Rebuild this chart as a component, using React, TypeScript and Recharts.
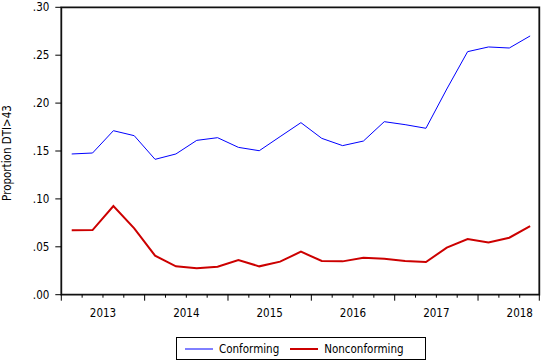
import React from 'react';
import { LineChart, Line, XAxis, YAxis, Legend, ReferenceArea } from 'recharts';

const quarters = [
  '2013Q1','2013Q2','2013Q3','2013Q4',
  '2014Q1','2014Q2','2014Q3','2014Q4',
  '2015Q1','2015Q2','2015Q3','2015Q4',
  '2016Q1','2016Q2','2016Q3','2016Q4',
  '2017Q1','2017Q2','2017Q3','2017Q4',
  '2018Q1','2018Q2','2018Q3',
];
const conforming = [
  0.1469, 0.1479, 0.1712, 0.1660, 0.1413, 0.1469, 0.1611, 0.1639,
  0.1538, 0.1503, 0.1650, 0.1796, 0.1632, 0.1556, 0.1604, 0.1806,
  0.1775, 0.1737, 0.2147, 0.2537, 0.2586, 0.2575, 0.2701,
];
const nonconforming = [
  0.0672, 0.0675, 0.0926, 0.0693, 0.0407, 0.0296, 0.0275, 0.0292,
  0.0362, 0.0296, 0.0345, 0.0449, 0.0352, 0.0348, 0.0386, 0.0376,
  0.0352, 0.0341, 0.0491, 0.0581, 0.0546, 0.0595, 0.0717,
];
const yearLabels = ['2013', '2014', '2015', '2016', '2017', '2018'];
const yTicks = [0, 0.05, 0.1, 0.15, 0.2, 0.25, 0.3];

const FONT = '"DejaVu Sans Condensed", "DejaVu Sans", Verdana, sans-serif';
const FS = 11.5;
const X_END = 22.94;

const data = quarters.map((q, i) => ({
  q,
  pos: i + 0.5,
  Conforming: conforming[i],
  Nonconforming: nonconforming[i],
}));

const xTickValues = [...quarters.map((_, i) => i), X_END];

const XTick = (props: any) => {
  const { x, y, payload } = props;
  const v = payload.value as number;
  const isInt = Number.isInteger(v);
  const major = !isInt || v % 4 === 0;
  const len = major ? 6 : 3;
  const showLabel = isInt && v % 4 === 2;
  const label = showLabel ? yearLabels[Math.floor(v / 4)] : null;
  return (
    <g>
      <line x1={x} x2={x} y1={y} y2={y + len} stroke="#000" strokeWidth={1} />
      {label && (
        <text x={x} y={y + 22} textAnchor="middle" fontFamily={FONT} fontSize={FS} fill="#000">
          {label}
        </text>
      )}
    </g>
  );
};

const renderLegend = (props: any) => {
  const { payload } = props;
  return (
    <div
      style={{
        boxSizing: 'border-box',
        width: 250,
        height: 23,
        border: '1px solid #000',
        display: 'flex',
        alignItems: 'center',
        paddingLeft: 8,
        fontFamily: FONT,
        fontSize: FS,
        color: '#000',
        background: '#fff',
      }}
    >
      {(payload || []).map((p: any, i: number) => (
        <div key={i} style={{ display: 'flex', alignItems: 'center', marginRight: 11 }}>
          <svg width={28} height={6} style={{ marginRight: 6 }}>
            <line x1={0} x2={28} y1={3} y2={3} stroke={p.color} strokeWidth={i === 0 ? 1 : 2} />
          </svg>
          <span>{p.value}</span>
        </div>
      ))}
    </div>
  );
};

const YLabel = () => (
  <text
    x={11}
    y={153}
    transform="rotate(-90 11 153)"
    textAnchor="middle"
    fontFamily={FONT}
    fontSize={FS}
    fill="#000"
  >
    Proportion DTI&gt;43
  </text>
);

export default function App() {
  return (
    <div style={{ position: 'absolute', left: 0, top: 0, width: 541, height: 361, background: '#fff' }}>
      <LineChart
        width={541}
        height={361}
        data={data}
        margin={{ top: 7.3, right: 1.7, bottom: 36.3, left: 0 }}
      >
        <XAxis
          dataKey="pos"
          type="number"
          domain={[0, X_END]}
          ticks={xTickValues}
          interval={0}
          allowDataOverflow
          axisLine={false}
          tickLine={false}
          tickSize={0}
          tickMargin={0}
          height={30}
          tick={<XTick />}
        />
        <YAxis
          type="number"
          domain={[0, 0.3]}
          ticks={yTicks}
          interval={0}
          width={61.3}
          axisLine={false}
          tickLine={{ stroke: '#000' }}
          tickSize={6}
          tickMargin={6}
          tick={{ fontFamily: FONT, fontSize: FS, fill: '#000' }}
          tickFormatter={(v: number) => v.toFixed(2).replace(/^0/, '')}
          label={<YLabel />}
        />
        <ReferenceArea
          x1={0}
          x2={X_END}
          y1={0}
          y2={0.3}
          fill="none"
          stroke="#111"
          strokeWidth={1.8}
          ifOverflow="visible"
        />
        <Line
          type="linear"
          dataKey="Conforming"
          stroke="#0000ff"
          strokeWidth={1}
          dot={false}
          isAnimationActive={false}
        />
        <Line
          type="linear"
          dataKey="Nonconforming"
          stroke="#cc0000"
          strokeWidth={2}
          dot={false}
          isAnimationActive={false}
        />
        <Legend
          layout="horizontal"
          verticalAlign="middle"
          align="center"
          content={renderLegend}
          wrapperStyle={{ left: 176, top: 337, width: 250, height: 23 }}
        />
      </LineChart>
    </div>
  );
}
